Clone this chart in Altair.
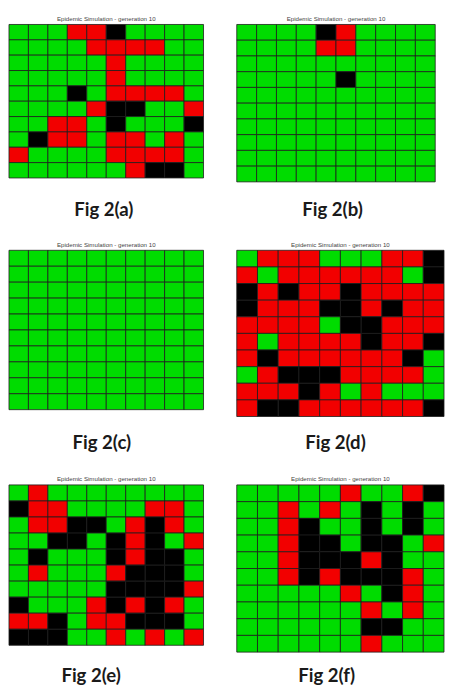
import altair as alt
import pandas as pd

# states: G = green (susceptible), R = red (infected), B = black (removed)
states = ["G", "R", "B"]
state_colors = ["#00dc00", "#f20000", "#000000"]

title_text = "Epidemic Simulation - generation 10"
labels = ["Fig 2(a)", "Fig 2(b)", "Fig 2(c)", "Fig 2(d)", "Fig 2(e)", "Fig 2(f)"]

grid_a = [
    "GGGRRBGGGG",
    "GGGGRRRRGG",
    "GGGGGRGGGG",
    "GGGGGRGGGG",
    "GGGBGRRRRG",
    "GGGGRBBGGR",
    "GGRRGBGGGB",
    "GBRRGRRGRG",
    "RGGGGRRRRG",
    "GGGGGGRBBG",
]
grid_b = [
    "GGGGBRGGGG",
    "GGGGRRGGGG",
    "GGGGGGGGGG",
    "GGGGGBGGGG",
    "GGGGGGGGGG",
    "GGGGGGGGGG",
    "GGGGGGGGGG",
    "GGGGGGGGGG",
    "GGGGGGGGGG",
    "GGGGGGGGGG",
]
grid_c = [
    "GGGGGGGGGG",
    "GGGGGGGGGG",
    "GGGGGGGGGG",
    "GGGGGGGGGG",
    "GGGGGGGGGG",
    "GGGGGGGGGG",
    "GGGGGGGGGG",
    "GGGGGGGGGG",
    "GGGGGGGGGG",
    "GGGGGGGGGG",
]
grid_d = [
    "GRRRGGGRRB",
    "RGRRRRRRGB",
    "BRBRRBRRRR",
    "BRRRBBRBRR",
    "RRRRGBBRRR",
    "RGRRRRBRRB",
    "RBRRRRRRBG",
    "GRBBBRRRRG",
    "RRRBRGRGGG",
    "RBBRRRRRRB",
]
grid_e = [
    "GRGGGGGGGG",
    "BRRGGGGRRG",
    "GRRBBGRBRG",
    "GGBBGBRBGR",
    "GBGGGBRBBG",
    "GRGGGRBBBG",
    "GGGGGBBBBR",
    "BGGGRBRBRG",
    "RRBGRRBBBG",
    "BBBGGRGRGR",
]
grid_f = [
    "GGGGGRGGRB",
    "GGRGRGBGBG",
    "GGRBGGBGBG",
    "GGRBBGBBGR",
    "GGRBBBRBGG",
    "GGRBRBBBRG",
    "GGGGGRGBRG",
    "GGGGGGRGRG",
    "GGGGGGBBGG",
    "GGGGGGRGGG",
]


def grid_frame(grid):
    return pd.DataFrame(
        [{"row": r, "col": c, "state": ch}
         for r, line in enumerate(grid) for c, ch in enumerate(line)]
    )


def panel(grid, label, w, h, lx, ly):
    cells = alt.Chart(grid_frame(grid)).mark_rect(
        stroke="#1c1c1c", strokeWidth=0.8
    ).encode(
        x=alt.X("col:O", axis=None, scale=alt.Scale(paddingInner=0, paddingOuter=0)),
        y=alt.Y("row:O", axis=None, scale=alt.Scale(paddingInner=0, paddingOuter=0)),
        color=alt.Color("state:N", scale=alt.Scale(domain=states, range=state_colors), legend=None),
    )
    lab = alt.Chart(pd.DataFrame({"label": [label]})).mark_text(
        font="Lato", fontWeight="bold", fontSize=19, align="center",
        baseline="alphabetic", color="#1a1a1a"
    ).encode(text="label:N", x=alt.value(lx), y=alt.value(ly))
    return alt.layer(cells, lab).properties(
        width=w, height=h,
        title=alt.TitleParams(
            text=title_text, fontSize=6.3, font="Liberation Sans",
            fontWeight="normal", color="#444444", offset=2, anchor="middle"
        ),
    )


pa = panel(grid_a, labels[0], 199, 157, 97, 196)
pb = panel(grid_b, labels[1], 203, 161, 98, 196)
pc = panel(grid_c, labels[2], 199, 163, 95, 203)
pd_ = panel(grid_d, labels[3], 212, 170, 101, 203)
pe = panel(grid_e, labels[4], 199, 164, 84, 202)
pf = panel(grid_f, labels[5], 212, 171, 92, 202)

chart = alt.concat(
    pa, pb, pc, pd_, pe, pf,
    columns=2,
    spacing={"row": 70, "column": 34},
    bounds="flush",
    center={"column": True, "row": False},
).properties(
    padding=0, background="white"
).configure_view(strokeWidth=0)

chart.save("out.html", embed_options={"renderer": "svg", "actions": False})
